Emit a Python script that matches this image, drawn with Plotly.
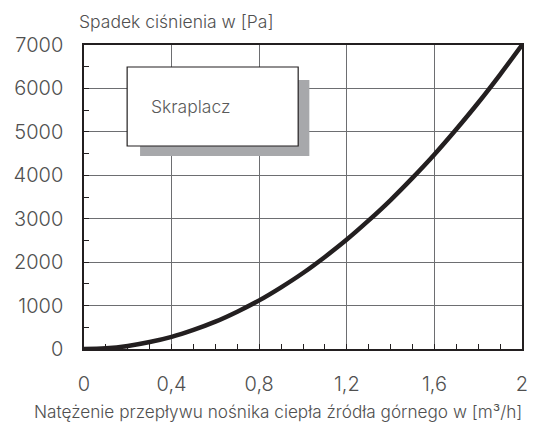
import plotly.graph_objects as go

flow = [0.0, 0.1, 0.2, 0.3, 0.4, 0.5, 0.6, 0.7, 0.8, 0.9, 1.0,
        1.1, 1.2, 1.3, 1.4, 1.5, 1.6, 1.7, 1.8, 1.9, 2.0]
pressure_drop = [0, 15, 70, 160, 280, 440, 630, 860, 1120, 1420, 1750,
                 2120, 2520, 2960, 3430, 3940, 4480, 5060, 5670, 6320, 7000]

x_tickvals = [0, 0.4, 0.8, 1.2, 1.6, 2.0]
x_ticktext = ["0", "0,4", "0,8", "1,2", "1,6", "2"]
y_tickvals = [0, 1000, 2000, 3000, 4000, 5000, 6000, 7000]
y_ticktext = ["0", "1000", "2000", "3000", "4000", "5000", "6000", "7000"]

y_title = "Spadek ciśnienia w [Pa]"
x_title = "Natężenie przepływu nośnika ciepła źródła górnego w [m³/h]"
label = "Skraplacz"

FONT = "Inter, Liberation Sans, Arial, sans-serif"
TXT = "#505050"

fig = go.Figure()
fig.add_trace(go.Scatter(x=flow, y=pressure_drop, mode="lines",
                         line=dict(color="#231f20", width=4.5, shape="spline"),
                         showlegend=False, hoverinfo="skip"))

# label box with shadow
fig.add_shape(type="rect", xref="x", yref="y", x0=0.256, x1=1.029, y0=4444, y1=6194,
              fillcolor="#a7a8ab", line=dict(width=0), layer="above")
fig.add_shape(type="rect", xref="x", yref="y", x0=0.197, x1=0.978, y0=4674, y1=6493,
              fillcolor="white", line=dict(color="#231f20", width=1.2), layer="above")
fig.add_annotation(x=0.297, y=5595, xref="x", yref="y", text=label, showarrow=False,
                   xanchor="left", yanchor="middle",
                   font=dict(family=FONT, size=17.5, color="#5a5a5a", weight=300))

fig.add_annotation(x=-0.016, y=1, xref="paper", yref="paper", yshift=24, text=y_title,
                   showarrow=False, xanchor="left", yanchor="middle",
                   font=dict(family=FONT, size=17.5, color=TXT, weight=300))

fig.add_annotation(x=0.442, y=0, xref="paper", yref="paper", yshift=-62, text=x_title,
                   showarrow=False, xanchor="center", yanchor="middle",
                   font=dict(family=FONT, size=17.2, color=TXT, weight=300))

fig.update_layout(
    width=534, height=427,
    margin=dict(l=84, r=12, t=45, b=78, autoexpand=False),
    paper_bgcolor="white", plot_bgcolor="white",
    font=dict(family=FONT, color=TXT, weight=300),
)
fig.update_xaxes(
    range=[0, 2], tickvals=x_tickvals, ticktext=x_ticktext, automargin=False,
    showgrid=True, gridcolor="#6d6e71", gridwidth=1,
    showline=True, mirror=True, linecolor="#231f20", linewidth=1.5,
    ticks="inside", ticklen=5, tickcolor="#231f20",
    minor=dict(dtick=0.1, ticks="inside", ticklen=5, tickcolor="#231f20", showgrid=False),
    tickfont=dict(family=FONT, size=20, color=TXT, weight=300), ticklabelstandoff=16,
    zeroline=False,
)
fig.update_yaxes(
    range=[0, 7000], tickvals=y_tickvals, ticktext=y_ticktext, automargin=False,
    showgrid=True, gridcolor="#6d6e71", gridwidth=1,
    showline=True, mirror=True, linecolor="#231f20", linewidth=1.5,
    ticks="inside", ticklen=5, tickcolor="#231f20",
    minor=dict(dtick=500, ticks="inside", ticklen=5, tickcolor="#231f20", showgrid=False),
    tickfont=dict(family=FONT, size=20, color=TXT, weight=300), ticklabelstandoff=15,
    zeroline=False,
)
fig.write_html("out.html", config={"displayModeBar": False},
               post_script="document.body.style.margin='0';")
